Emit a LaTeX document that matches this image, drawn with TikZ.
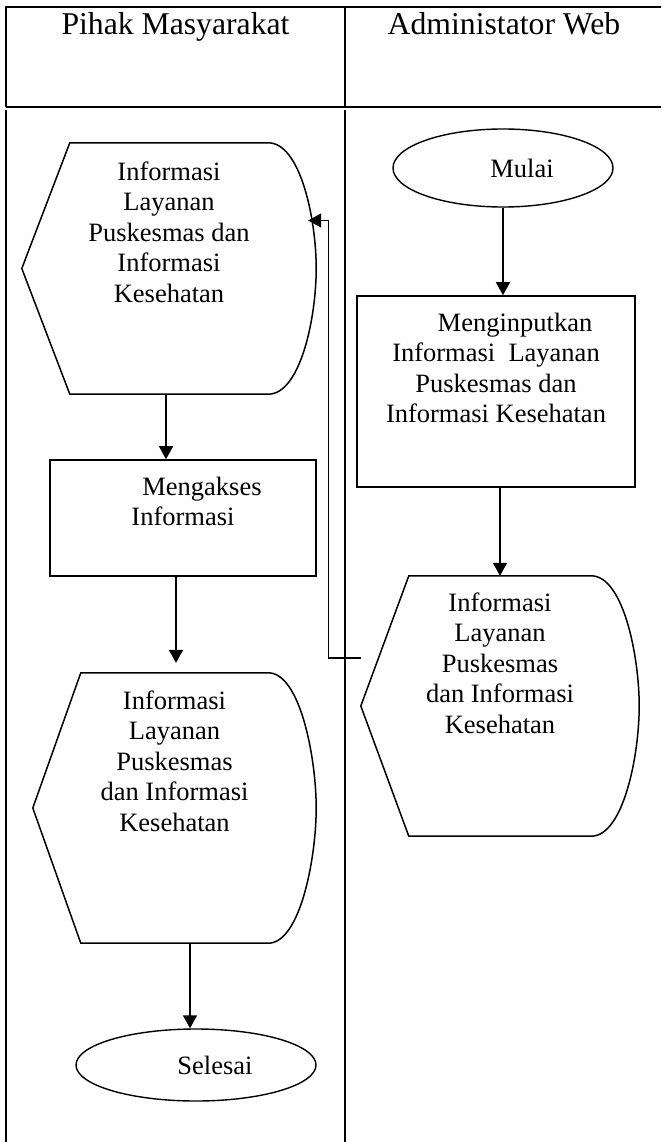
\documentclass[tikz,border=0pt]{standalone}
\usepackage{fontspec}
\setmainfont{Liberation Serif}
\usepackage{tikz}
\usetikzlibrary{arrows.meta,shapes.geometric}
\tikzset{
  lane/.style={line width=1.3pt},
  hdr/.style={font=\fontsize{31.7}{36}\selectfont, anchor=base, inner sep=0pt},
  txt/.style={font=\fontsize{26.5}{30.5}\selectfont, inner sep=0pt},
  proc/.style={txt, draw, line width=1.6pt},
  disp/.style={txt},
  term/.style={txt, draw, ellipse, line width=1.4pt},
  shp/.style={line width=1.5pt},
  sig/.style={-{Triangle[length=13pt,width=14pt]}, line width=1.6pt},
}
\newcommand{\ind}{\hspace*{38pt}}
% display symbol round a node
\newcommand{\dispshape}[1]{%
  \draw[shp] ([xshift=48pt]#1.north west) -- ([xshift=-48pt]#1.north east)
    .. controls ([xshift=-16pt]#1.north east) and ([yshift=50pt]#1.east) .. (#1.east)
    .. controls ([yshift=-50pt]#1.east) and ([xshift=-16pt]#1.south east) .. ([xshift=-48pt]#1.south east)
    -- ([xshift=48pt]#1.south west) -- (#1.west) -- cycle;}

\begin{document}
\begin{tikzpicture}[x=1pt,y=-1pt]
  \useasboundingbox (0,0) rectangle (661,1142);
  % swimlanes
  \draw[lane] (6,107) -- (6,7) -- (661,7);
  \draw[lane] (6,107) -- (661,107);
  \draw[lane] (345,7) -- (345,107);
  \draw[lane] (6,110) -- (6,1142);
  \draw[lane] (345,110) -- (345,1142);
  \node[hdr] (pihak) at (175.5,35) {Pihak Masyarakat};
  \node[hdr] (admin) at (504,35) {Administator Web};

  % admin lane
  \node[term, minimum width=220pt, minimum height=78pt] (mulai) at (503,168) {\ind Mulai};
  \node[proc, text height=35pt, text depth=156pt] (input) at (496,391.5)
    {\parbox[t]{278pt}{\centering\ind Menginputkan\\Informasi~~Layanan\\Puskesmas dan\\Informasi Kesehatan}};
  \node[disp, text height=35pt, text depth=225pt] (infoB) at (500,706)
    {\parbox[t]{278pt}{\centering Informasi\\Layanan\\Puskesmas\\dan Informasi\\Kesehatan}};
  \dispshape{infoB}

  % masyarakat lane
  \node[disp, text height=37pt, text depth=214pt] (infoA) at (169,268.5)
    {\parbox[t]{294pt}{\centering Informasi\\Layanan\\Puskesmas dan\\Informasi\\Kesehatan}};
  \dispshape{infoA}
  \node[proc, text height=35pt, text depth=81pt] (akses) at (183,518)
    {\parbox[t]{266pt}{\centering\ind Mengakses\\Informasi}};
  \node[disp, text height=36pt, text depth=234pt] (infoC) at (174.5,808)
    {\parbox[t]{283pt}{\centering Informasi\\Layanan\\Puskesmas\\dan Informasi\\Kesehatan}};
  \dispshape{infoC}
  \node[term, minimum width=240pt, minimum height=72pt] (selesai) at (196,1065) {\ind Selesai};

  % flow
  \draw[sig] (mulai.south) -- (mulai.south |- input.north);
  \draw[sig] (infoB.north |- input.south) -- (infoB.north);
  \draw[sig, line width=1.3pt] ([yshift=48pt]infoB.west) -- ++(-32pt,0)
    |- ([xshift=-8pt,yshift=48pt]infoA.east);
  \draw[sig] ([xshift=-3pt]infoA.south) -- ([xshift=-3pt]infoA.south |- akses.north);
  \draw[sig, shorten >=10pt] ([xshift=1.5pt]infoC.north |- akses.south) -- ([xshift=1.5pt]infoC.north);
  \draw[sig] ([xshift=-6pt]selesai.north |- infoC.south) -- ([xshift=-6pt]selesai.north);
\end{tikzpicture}
\end{document}
